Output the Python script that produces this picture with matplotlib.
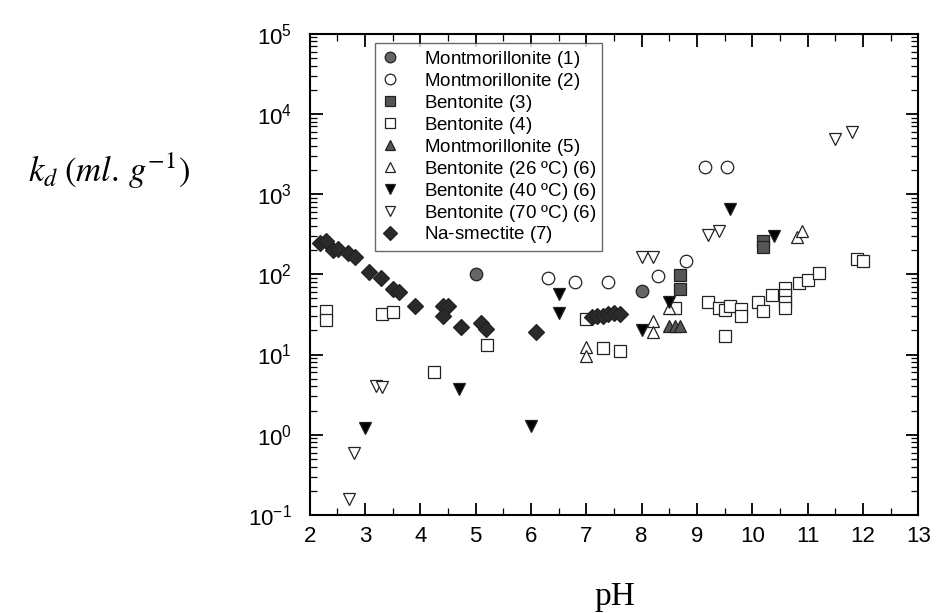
import numpy as np
import matplotlib.pyplot as plt
from matplotlib.ticker import LogLocator, MultipleLocator, NullFormatter

plt.rcParams['font.family'] = ['Liberation Sans', 'DejaVu Sans']
plt.rcParams['mathtext.fontset'] = 'custom'
plt.rcParams['mathtext.rm'] = 'Liberation Sans'
plt.rcParams['mathtext.it'] = 'Liberation Sans:italic'

# 数据：pH 与 kd (ml/g)
mont1_ph = [5.0, 8.0]
mont1_kd = [100, 62]

mont2_ph = [6.3, 6.8, 7.4, 8.3, 8.8, 9.15, 9.55]
mont2_kd = [90, 80, 80, 95, 148, 2150, 2150]

bent3_ph = [8.7, 8.7, 10.2, 10.2]
bent3_kd = [97, 66, 260, 220]

bent4_ph = [2.3, 2.3, 3.3, 3.5, 4.25, 5.2, 7.0, 7.3, 7.6, 8.6, 9.2, 9.4, 9.5, 9.6,
            9.5, 9.8, 9.8, 10.1, 10.2, 10.35, 10.6, 10.6, 10.6, 10.6, 10.85,
            11.0, 11.2, 11.9, 12.0]
bent4_kd = [35, 27, 32, 34, 6.0, 13, 28, 12, 11, 38, 45, 38, 36, 40,
            17, 37, 30, 45, 35, 55, 68, 55, 45, 38, 78,
            86, 105, 155, 145]

mont5_ph = [8.5, 8.6, 8.7]
mont5_kd = [23, 23, 23]

bent26_ph = [7.0, 7.0, 8.2, 8.2, 8.5, 10.8, 10.9]
bent26_kd = [12.5, 9.7, 26, 19, 38, 290, 350]

bent40_ph = [3.0, 4.7, 6.0, 6.5, 6.5, 8.0, 8.5, 9.6, 10.4]
bent40_kd = [1.2, 3.7, 1.3, 57, 33, 20, 45, 650, 300]

bent70_ph = [2.7, 2.8, 3.2, 3.3, 8.0, 8.2, 9.2, 9.4, 11.5, 11.8]
bent70_kd = [0.16, 0.6, 4.0, 3.9, 165, 165, 310, 350, 4800, 6000]

nasm_ph = [2.18, 2.3, 2.42, 2.51, 2.69, 2.81, 3.07, 3.29, 3.5, 3.62, 3.91, 4.41,
           4.5, 4.4, 4.74, 5.1, 5.19, 6.09, 7.1, 7.2, 7.3, 7.4, 7.5, 7.6]
nasm_kd = [245, 257, 203, 206, 184, 163, 106, 90, 65, 60, 40, 40,
           40, 30, 22, 25, 21, 19, 29, 30, 30, 32, 33, 32]

# 系列样式
series = [
    (mont1_ph, mont1_kd, 'o', '#666666', 'Montmorillonite $\\mathit{(1)}$'),
    (mont2_ph, mont2_kd, 'o', 'white', 'Montmorillonite $\\mathit{(2)}$'),
    (bent3_ph, bent3_kd, 's', '#555555', 'Bentonite $\\mathit{(3)}$'),
    (bent4_ph, bent4_kd, 's', 'white', 'Bentonite $\\mathit{(4)}$'),
    (mont5_ph, mont5_kd, '^', '#555555', 'Montmorillonite $\\mathit{(5)}$'),
    (bent26_ph, bent26_kd, '^', 'white', 'Bentonite (26 \u00baC) $\\mathit{(6)}$'),
    (bent40_ph, bent40_kd, 'v', 'black', 'Bentonite (40 \u00baC) $\\mathit{(6)}$'),
    (bent70_ph, bent70_kd, 'v', 'white', 'Bentonite (70 \u00baC) $\\mathit{(6)}$'),
    (nasm_ph, nasm_kd, 'D', '#2a2a2a', 'Na-smectite $\\mathit{(7)}$'),
]

fig = plt.figure(figsize=(9.36, 6.13), dpi=100)
ax = fig.add_axes([0.331, 0.160, 0.650, 0.785])

for ph, kd, mk, fc, lab in series:
    ms = 8 if mk == 'D' else 9
    ax.plot(ph, kd, linestyle='none', marker=mk, markersize=ms,
            markerfacecolor=fc, markeredgecolor='#222222',
            markeredgewidth=0.9, label=lab)

ax.set_yscale('log')
ax.set_xlim(2, 13)
ax.set_ylim(0.1, 1e5)

ax.xaxis.set_major_locator(MultipleLocator(1))
ax.xaxis.set_minor_locator(MultipleLocator(0.5))
ax.yaxis.set_major_locator(LogLocator(base=10, numticks=10))
ax.yaxis.set_minor_locator(LogLocator(base=10, subs=np.arange(2, 10), numticks=20))
ax.yaxis.set_minor_formatter(NullFormatter())

ax.tick_params(which='both', direction='in', top=True, right=True)
ax.tick_params(which='major', length=9, width=1.3, labelsize=16)
ax.tick_params(axis='x', which='major', pad=8)
ax.tick_params(axis='y', which='major', pad=13)
ax.tick_params(which='minor', length=5, width=0.9)
for sp in ax.spines.values():
    sp.set_linewidth(1.5)

# 图例
leg = ax.legend(loc='upper left', bbox_to_anchor=(0.107, 0.98),
                frameon=True, fancybox=False, edgecolor='#444444',
                fontsize=13.5, labelspacing=0.05, handletextpad=1.3,
                borderpad=0.3, handlelength=1.0, borderaxespad=0,
                markerscale=0.85)
leg.get_frame().set_linewidth(1.0)

fig.text(0.117, 0.722, r'$k_d\;(ml.\,g^{-1})$', fontsize=25,
         math_fontfamily='stix', ha='center', va='center')
fig.text(0.657, 0.027, 'pH', fontsize=24, family='Liberation Serif',
         ha='center', va='center')

fig.savefig('out.png', dpi=100)
